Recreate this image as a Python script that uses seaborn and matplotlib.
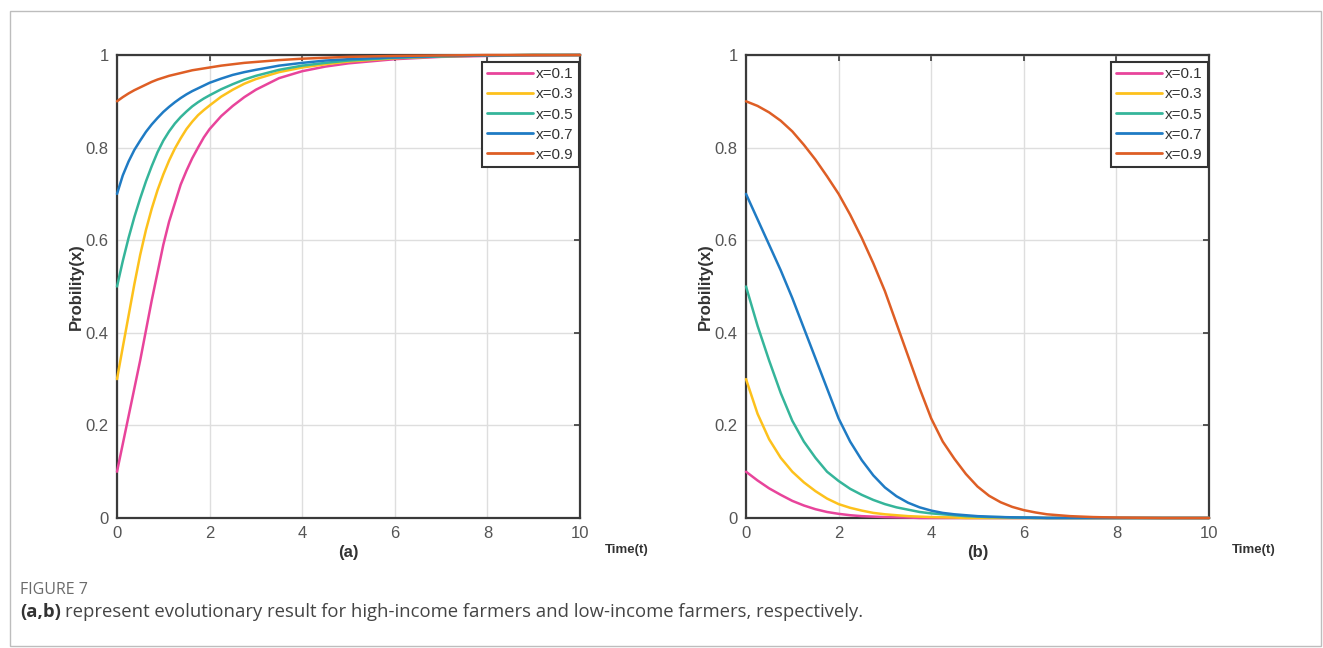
import matplotlib
matplotlib.use("Agg")
import matplotlib.pyplot as plt
import pandas as pd
import seaborn as sns
from matplotlib.patches import Rectangle

# values
labels = ['x=0.1', 'x=0.3', 'x=0.5', 'x=0.7', 'x=0.9']
colors = ['#E8449B', '#FDC11C', '#35B59A', '#1F7BC4', '#DE5E25']

# (a) high-income farmers
t_a = [0, 0.125, 0.25, 0.375, 0.5, 0.625, 0.75, 0.875, 1, 1.125, 1.25, 1.375, 1.5, 1.625, 1.75, 1.875, 2,
       2.25, 2.5, 2.75, 3, 3.5, 4, 4.5, 5, 6, 7, 8, 9, 10]
a_01 = [0.10, 0.16, 0.22, 0.28, 0.34, 0.405, 0.47, 0.53, 0.59, 0.64, 0.68, 0.72, 0.75, 0.777, 0.80, 0.822, 0.84,
        0.868, 0.89, 0.909, 0.925, 0.95, 0.965, 0.975, 0.982, 0.991, 0.996, 0.998, 0.999, 1.0]
a_03 = [0.30, 0.369, 0.437, 0.505, 0.568, 0.622, 0.668, 0.708, 0.742, 0.772, 0.798, 0.82, 0.84, 0.856, 0.87, 0.881, 0.891,
        0.91, 0.925, 0.938, 0.948, 0.963, 0.973, 0.98, 0.986, 0.993, 0.997, 0.999, 1.0, 1.0]
a_05 = [0.50, 0.555, 0.605, 0.65, 0.69, 0.727, 0.76, 0.79, 0.815, 0.835, 0.852, 0.866, 0.878, 0.889, 0.898, 0.906, 0.913,
        0.926, 0.937, 0.947, 0.955, 0.968, 0.977, 0.983, 0.988, 0.994, 0.997, 0.999, 1.0, 1.0]
a_07 = [0.70, 0.74, 0.77, 0.795, 0.815, 0.834, 0.85, 0.864, 0.877, 0.888, 0.898, 0.907, 0.915, 0.922, 0.928, 0.934, 0.94,
        0.949, 0.957, 0.963, 0.968, 0.977, 0.983, 0.988, 0.991, 0.995, 0.998, 0.999, 1.0, 1.0]
a_09 = [0.90, 0.909, 0.917, 0.924, 0.93, 0.936, 0.942, 0.947, 0.951, 0.955, 0.958, 0.961, 0.964, 0.967, 0.969, 0.971, 0.973,
        0.977, 0.98, 0.983, 0.985, 0.989, 0.992, 0.994, 0.996, 0.998, 0.999, 1.0, 1.0, 1.0]

# (b) low-income farmers
t_b = [0, 0.25, 0.5, 0.75, 1, 1.25, 1.5, 1.75, 2, 2.25, 2.5, 2.75, 3, 3.25, 3.5, 3.75, 4, 4.25, 4.5, 4.75,
       5, 5.25, 5.5, 5.75, 6, 6.25, 6.5, 6.75, 7, 7.5, 8, 9, 10]
b_01 = [0.10, 0.081, 0.064, 0.05, 0.037, 0.027, 0.019, 0.013, 0.009, 0.006, 0.004, 0.003, 0.002, 0.0015, 0.001, 0, 0,
        0, 0, 0, 0, 0, 0, 0, 0, 0, 0, 0, 0, 0, 0, 0, 0]
b_03 = [0.30, 0.225, 0.17, 0.13, 0.10, 0.077, 0.058, 0.042, 0.03, 0.022, 0.016, 0.011, 0.008, 0.006, 0.004, 0.003, 0.002,
        0.0015, 0.001, 0, 0, 0, 0, 0, 0, 0, 0, 0, 0, 0, 0, 0, 0]
b_05 = [0.50, 0.415, 0.34, 0.27, 0.21, 0.165, 0.13, 0.10, 0.08, 0.063, 0.05, 0.039, 0.03, 0.023, 0.018, 0.013, 0.01,
        0.008, 0.006, 0.004, 0.003, 0.002, 0.002, 0.001, 0.001, 0, 0, 0, 0, 0, 0, 0, 0]
b_07 = [0.70, 0.645, 0.59, 0.535, 0.475, 0.41, 0.345, 0.28, 0.215, 0.165, 0.125, 0.092, 0.066, 0.047, 0.033, 0.023, 0.016,
        0.011, 0.008, 0.006, 0.004, 0.003, 0.002, 0.0015, 0.001, 0.001, 0, 0, 0, 0, 0, 0, 0]
b_09 = [0.90, 0.89, 0.876, 0.858, 0.835, 0.806, 0.774, 0.738, 0.70, 0.655, 0.605, 0.55, 0.49, 0.42, 0.35, 0.28, 0.215,
        0.165, 0.128, 0.095, 0.068, 0.048, 0.034, 0.024, 0.017, 0.012, 0.008, 0.006, 0.004, 0.002, 0.001, 0, 0]


def long_df(t, series):
    parts = [pd.DataFrame({'t': t, 'p': v, 'x0': lab}) for lab, v in zip(labels, series)]
    return pd.concat(parts, ignore_index=True)


df_a = long_df(t_a, [a_01, a_03, a_05, a_07, a_09])
df_b = long_df(t_b, [b_01, b_03, b_05, b_07, b_09])

sns.set_style("white")
plt.rcParams['font.family'] = ['Liberation Sans', 'DejaVu Sans']

W, H = 1323, 648
fig = plt.figure(figsize=(W / 100, H / 100), dpi=100)


def px_axes(l, t, r, b):
    return fig.add_axes([l / W, 1 - b / H, (r - l) / W, (b - t) / H])


ax_a = px_axes(117, 55, 580, 518)
ax_b = px_axes(746, 55, 1209, 518)

for ax, df, tag, tx in [(ax_a, df_a, '(a)', 627), (ax_b, df_b, '(b)', 1254)]:
    sns.lineplot(data=df, x='t', y='p', hue='x0', palette=colors, linewidth=1.8,
                 ax=ax, zorder=3, clip_on=False)
    ax.set_xlim(0, 10)
    ax.set_ylim(0, 1)
    ax.set_xticks([0, 2, 4, 6, 8, 10])
    ax.set_yticks([0, 0.2, 0.4, 0.6, 0.8, 1])
    ax.set_yticklabels(['0', '0.2', '0.4', '0.6', '0.8', '1'])
    ax.grid(True, color='#dedede', linewidth=1.0)
    ax.set_axisbelow(True)
    for sp in ax.spines.values():
        sp.set_visible(True)
        sp.set_color('#3a3a3a')
        sp.set_linewidth(1.6)
    ax.tick_params(direction='in', length=4, width=1.2, color='#3a3a3a', top=True, right=True,
                   labelsize=12, labelcolor='#555555', pad=6)
    ax.set_xlabel('')
    ax.set_ylabel('Probility(x)', fontsize=12, fontweight='bold', color='#333333')
    ax.yaxis.set_label_coords(-(117 - 84) / 463, 0.5)
    ax.text(0.5, -35 / 463, tag, transform=ax.transAxes, ha='center', va='center',
            fontsize=12, fontweight='bold', color='#333333')
    fig.text(tx / W, 1 - 550 / H, 'Time(t)', fontsize=9.5, fontweight='bold',
             ha='center', va='center', color='#333333')

    h, l = ax.get_legend_handles_labels()
    leg = ax.legend(h, l, loc='upper right', bbox_to_anchor=((579 - 117) / 463, (518 - 62) / 463),
                    borderaxespad=0, frameon=True, fancybox=False, edgecolor='#333333',
                    framealpha=1, fontsize=11, handlelength=3.0, handletextpad=0.2,
                    labelspacing=0.4, borderpad=0.35)
    leg.get_frame().set_linewidth(1.5)
    for line in leg.get_lines():
        line.set_linewidth(2)
    for txt in leg.get_texts():
        txt.set_color('#333333')

# figure frame and caption
fig.add_artist(Rectangle((9.5 / W, 2 / H), (1321 - 9.5) / W, (646 - 11) / H,
                         transform=fig.transFigure, fill=False, edgecolor='#bdbdbd', lw=1))
cap_font = ['Open Sans', 'DejaVu Sans']
fig.text(20 / W, 1 - 590 / H, 'FIGURE 7', fontsize=11.5, color='#6b6b6b', va='center', family=cap_font)
t1 = fig.text(20 / W, 1 - 612 / H, '(a,b)', fontsize=13.3, fontweight='bold', color='#333333',
              va='center', family=cap_font)
fig.canvas.draw()
bb = t1.get_window_extent()
fig.text((bb.x1 + 4) / W, 1 - 612 / H,
         'represent evolutionary result for high-income farmers and low-income farmers, respectively.',
         fontsize=13.3, color='#444444', va='center', family=cap_font)

fig.savefig('out.png', dpi=100)
